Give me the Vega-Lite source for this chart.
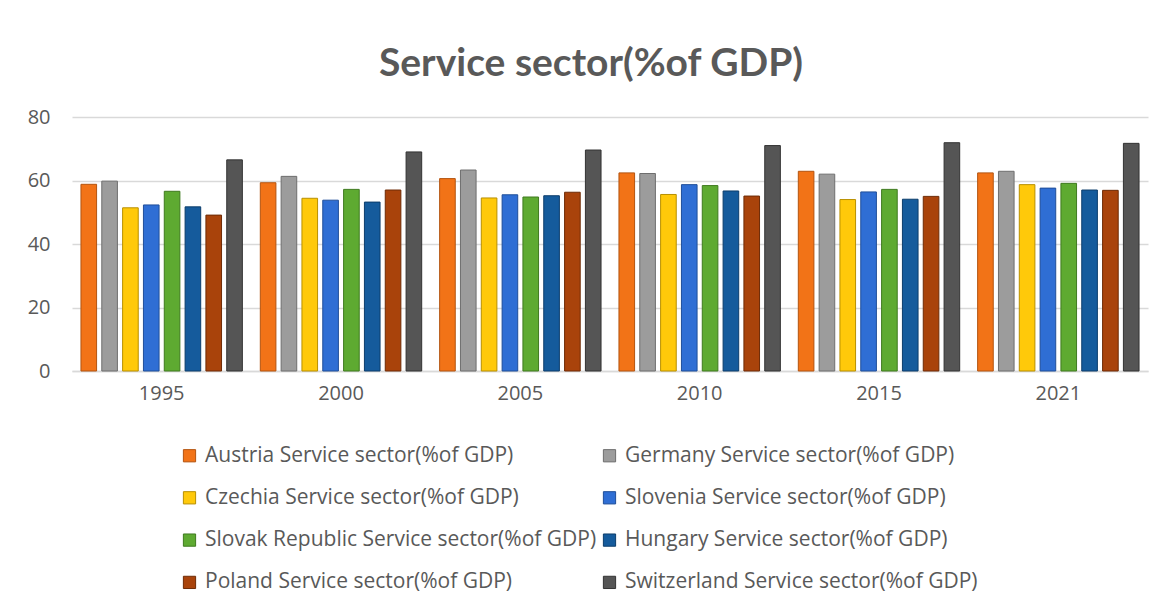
{
  "$schema": "https://vega.github.io/schema/vega-lite/v6.json",
  "width": 1076,
  "height": 254,
  "autosize": {"type": "none"},
  "padding": {"left": 72, "top": 117, "right": 20, "bottom": 245},
  "background": "white",
  "title": {
    "text": "Service sector(%of GDP)",
    "font": "Lato",
    "fontSize": 39,
    "fontWeight": "bold",
    "color": "#595959",
    "anchor": "middle",
    "dx": -19,
    "offset": 23
  },
  "data": {
    "values": [
      {"year": "1995", "series": "Austria Service sector(%of GDP)", "value": 58.8},
      {"year": "1995", "series": "Germany Service sector(%of GDP)", "value": 59.8},
      {"year": "1995", "series": "Czechia Service sector(%of GDP)", "value": 51.4},
      {"year": "1995", "series": "Slovenia Service sector(%of GDP)", "value": 52.3},
      {"year": "1995", "series": "Slovak Republic Service sector(%of GDP)", "value": 56.6},
      {"year": "1995", "series": "Hungary Service sector(%of GDP)", "value": 51.7},
      {"year": "1995", "series": "Poland Service sector(%of GDP)", "value": 49.1},
      {"year": "1995", "series": "Switzerland Service sector(%of GDP)", "value": 66.5},
      {"year": "2000", "series": "Austria Service sector(%of GDP)", "value": 59.3},
      {"year": "2000", "series": "Germany Service sector(%of GDP)", "value": 61.3},
      {"year": "2000", "series": "Czechia Service sector(%of GDP)", "value": 54.4},
      {"year": "2000", "series": "Slovenia Service sector(%of GDP)", "value": 53.8},
      {"year": "2000", "series": "Slovak Republic Service sector(%of GDP)", "value": 57.2},
      {"year": "2000", "series": "Hungary Service sector(%of GDP)", "value": 53.2},
      {"year": "2000", "series": "Poland Service sector(%of GDP)", "value": 57.0},
      {"year": "2000", "series": "Switzerland Service sector(%of GDP)", "value": 69.0},
      {"year": "2005", "series": "Austria Service sector(%of GDP)", "value": 60.6},
      {"year": "2005", "series": "Germany Service sector(%of GDP)", "value": 63.3},
      {"year": "2005", "series": "Czechia Service sector(%of GDP)", "value": 54.5},
      {"year": "2005", "series": "Slovenia Service sector(%of GDP)", "value": 55.5},
      {"year": "2005", "series": "Slovak Republic Service sector(%of GDP)", "value": 54.8},
      {"year": "2005", "series": "Hungary Service sector(%of GDP)", "value": 55.2},
      {"year": "2005", "series": "Poland Service sector(%of GDP)", "value": 56.3},
      {"year": "2005", "series": "Switzerland Service sector(%of GDP)", "value": 69.6},
      {"year": "2010", "series": "Austria Service sector(%of GDP)", "value": 62.4},
      {"year": "2010", "series": "Germany Service sector(%of GDP)", "value": 62.2},
      {"year": "2010", "series": "Czechia Service sector(%of GDP)", "value": 55.6},
      {"year": "2010", "series": "Slovenia Service sector(%of GDP)", "value": 58.7},
      {"year": "2010", "series": "Slovak Republic Service sector(%of GDP)", "value": 58.4},
      {"year": "2010", "series": "Hungary Service sector(%of GDP)", "value": 56.7},
      {"year": "2010", "series": "Poland Service sector(%of GDP)", "value": 55.1},
      {"year": "2010", "series": "Switzerland Service sector(%of GDP)", "value": 71.0},
      {"year": "2015", "series": "Austria Service sector(%of GDP)", "value": 62.9},
      {"year": "2015", "series": "Germany Service sector(%of GDP)", "value": 62.0},
      {"year": "2015", "series": "Czechia Service sector(%of GDP)", "value": 54.0},
      {"year": "2015", "series": "Slovenia Service sector(%of GDP)", "value": 56.4},
      {"year": "2015", "series": "Slovak Republic Service sector(%of GDP)", "value": 57.2},
      {"year": "2015", "series": "Hungary Service sector(%of GDP)", "value": 54.1},
      {"year": "2015", "series": "Poland Service sector(%of GDP)", "value": 55.0},
      {"year": "2015", "series": "Switzerland Service sector(%of GDP)", "value": 71.9},
      {"year": "2021", "series": "Austria Service sector(%of GDP)", "value": 62.4},
      {"year": "2021", "series": "Germany Service sector(%of GDP)", "value": 62.9},
      {"year": "2021", "series": "Czechia Service sector(%of GDP)", "value": 58.7},
      {"year": "2021", "series": "Slovenia Service sector(%of GDP)", "value": 57.6},
      {"year": "2021", "series": "Slovak Republic Service sector(%of GDP)", "value": 59.1},
      {"year": "2021", "series": "Hungary Service sector(%of GDP)", "value": 57.0},
      {"year": "2021", "series": "Poland Service sector(%of GDP)", "value": 56.9},
      {"year": "2021", "series": "Switzerland Service sector(%of GDP)", "value": 71.7}
    ]
  },
  "mark": {"type": "bar", "strokeWidth": 1},
  "encoding": {
    "x": {
      "field": "year",
      "type": "nominal",
      "scale": {"paddingInner": 0.1, "paddingOuter": 0.05},
      "axis": {
        "title": null,
        "labelAngle": 0,
        "labelFont": "Open Sans",
        "labelFontSize": 20,
        "labelColor": "#595959",
        "labelPadding": 12,
        "ticks": false,
        "domainColor": "#D9D9D9",
        "domainWidth": 1.5
      }
    },
    "xOffset": {
      "field": "series",
      "type": "nominal",
      "sort": null,
      "scale": {"paddingInner": 0.25}
    },
    "y": {
      "field": "value",
      "type": "quantitative",
      "scale": {"domain": [0, 80]},
      "axis": {
        "title": null,
        "values": [0, 20, 40, 60, 80],
        "labelFont": "Open Sans",
        "labelFontSize": 20,
        "labelColor": "#595959",
        "labelPadding": 22,
        "ticks": false,
        "domain": false,
        "gridColor": "#D9D9D9",
        "gridWidth": 1.5
      }
    },
    "color": {
      "field": "series",
      "type": "nominal",
      "sort": null,
      "scale": {
        "domain": [
          "Austria Service sector(%of GDP)",
          "Germany Service sector(%of GDP)",
          "Czechia Service sector(%of GDP)",
          "Slovenia Service sector(%of GDP)",
          "Slovak Republic Service sector(%of GDP)",
          "Hungary Service sector(%of GDP)",
          "Poland Service sector(%of GDP)",
          "Switzerland Service sector(%of GDP)"
        ],
        "range": ["#F27317", "#9C9C9C", "#FFC90A", "#2F6ED4", "#5EAA31", "#155B9C", "#A9430B", "#555555"]
      },
      "legend": {
        "title": null,
        "orient": "none",
        "legendX": 107,
        "legendY": 328,
        "direction": "horizontal",
        "columns": 2,
        "columnPadding": 2,
        "rowPadding": 20.3,
        "symbolType": "square",
        "symbolSize": 150,
        "symbolStrokeWidth": 1,
        "symbolStrokeColor": "#555555",
        "labelFont": "Open Sans",
        "labelFontSize": 21,
        "labelColor": "#595959",
        "labelLimit": 500,
        "labelOffset": 5
      }
    },
    "stroke": {
      "field": "series",
      "type": "nominal",
      "sort": null,
      "scale": {
        "domain": [
          "Austria Service sector(%of GDP)",
          "Germany Service sector(%of GDP)",
          "Czechia Service sector(%of GDP)",
          "Slovenia Service sector(%of GDP)",
          "Slovak Republic Service sector(%of GDP)",
          "Hungary Service sector(%of GDP)",
          "Poland Service sector(%of GDP)",
          "Switzerland Service sector(%of GDP)"
        ],
        "range": ["#B35410", "#6E6E6E", "#B88F00", "#1F4E99", "#3F7A1F", "#0C3D6B", "#6E2B06", "#333333"]
      },
      "legend": null
    }
  },
  "config": {"view": {"stroke": null}}
}
